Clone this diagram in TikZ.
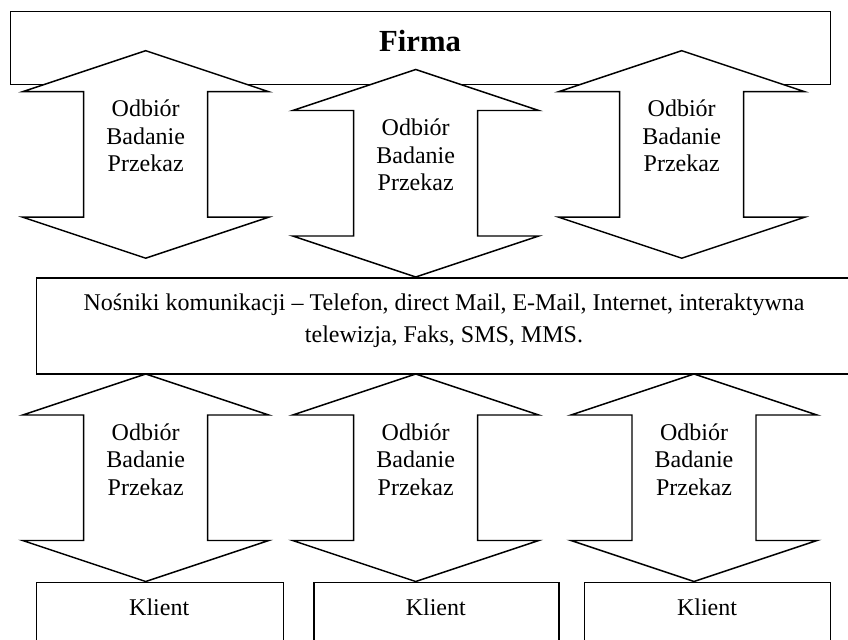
\documentclass[tikz,border=0pt]{standalone}
\usepackage{fontspec}
\setmainfont{Liberation Serif}
\newdimen\px \px=0.75pt
\newcommand\dblarr[2]{%
  \draw[arr] (#1,#2) -- ++(123,41) -- ++(-61,0) -- ++(0,125.5) -- ++(61,0)
    -- ++(-123,41) -- ++(-123,-41) -- ++(61,0) -- ++(0,-125.5) -- ++(-61,0) -- cycle;}
\begin{document}
\begin{tikzpicture}[x=0.75pt,y=-0.75pt,
  box/.style={draw,line width=1.1pt,fill=white,inner sep=0pt,anchor=north west},
  arr/.style={draw,line width=1.1pt,fill=white,line join=miter},
  lbl/.style={inner sep=0pt,align=center,font=\fontsize{18}{20.6}\selectfont},
  klbl/.style={inner sep=0pt,anchor=base,font=\fontsize{18}{20.6}\selectfont},
]
\useasboundingbox (0,0) rectangle (848,639);
% boxes
\node[box,minimum width=820.3\px,minimum height=73\px] (firma) at (9.7,10.5) {};
\node[box,minimum width=816.3\px,minimum height=96\px] (media) at (35.7,277.3) {};
\node[box,minimum width=247\px,minimum height=70\px] (k1) at (35.7,582) {};
\node[box,minimum width=245\px,minimum height=70\px] (k2) at (313.3,582) {};
\node[box,minimum width=246\px,minimum height=70\px] (k3) at (584,582) {};
% arrows
\dblarr{145.7}{50.7}
\dblarr{681.7}{50.7}
\dblarr{415.7}{69.5}
\dblarr{145.7}{374}
\dblarr{415.7}{374}
\dblarr{694}{374}
% texts
\node[inner sep=0pt,anchor=base,font=\fontsize{23}{27}\bfseries\selectfont] (firmat) at (420,51) {Firma};
\node[lbl] (a1) at (145.7,136) {Odbiór\\Badanie\\Przekaz};
\node[lbl] (a2) at (415.7,154.8) {Odbiór\\Badanie\\Przekaz};
\node[lbl] (a3) at (681.7,136) {Odbiór\\Badanie\\Przekaz};
\node[lbl] (a4) at (145.7,459.3) {Odbiór\\Badanie\\Przekaz};
\node[lbl] (a5) at (415.7,459.3) {Odbiór\\Badanie\\Przekaz};
\node[lbl] (a6) at (694,459.3) {Odbiór\\Badanie\\Przekaz};
\node[lbl,font=\fontsize{18}{24}\selectfont] (mediat) at (444,321)
  {Nośniki komunikacji – Telefon, direct Mail, E-Mail, Internet, interaktywna\\telewizja, Faks, SMS, MMS.};
\node[klbl] (kt1) at (159.2,615) {Klient};
\node[klbl] (kt2) at (435.8,615) {Klient};
\node[klbl] (kt3) at (707,615) {Klient};
\end{tikzpicture}
\end{document}
